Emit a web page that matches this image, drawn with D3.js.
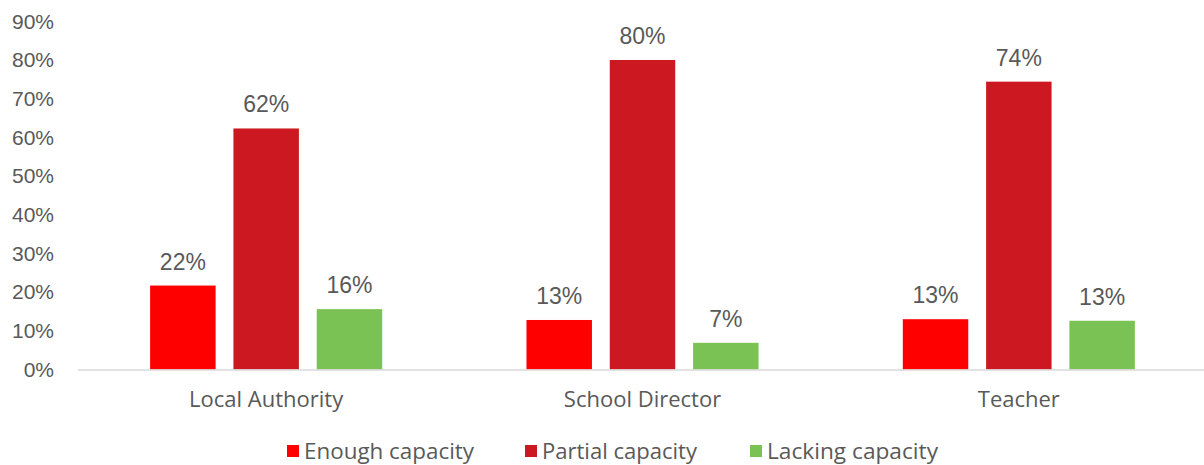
<!DOCTYPE html>
<html>
<head>
<meta charset="utf-8">
<script src="https://cdn.jsdelivr.net/npm/d3@7"></script>
<style>
  body { margin: 0; background: #fff; }
  svg text { fill: #595959; }
</style>
</head>
<body>
<div id="chart"></div>
<script>
// capacity by respondent type
var groups = ["Local Authority", "School Director", "Teacher"];
var keys = ["Enough capacity", "Partial capacity", "Lacking capacity"];
var enough = [21.7, 12.8, 13.0];
var partial = [62.3, 80.0, 74.4];
var lacking = [15.6, 6.9, 12.6];
var ticks = [0, 10, 20, 30, 40, 50, 60, 70, 80, 90];

var colors = {"Enough capacity": "#ff0000", "Partial capacity": "#cc1820", "Lacking capacity": "#7bc254"};

var rows = groups.map(function(g, i) {
  return {group: g, "Enough capacity": enough[i], "Partial capacity": partial[i], "Lacking capacity": lacking[i]};
});

var width = 1204, height = 465;

var svg = d3.select("#chart").append("svg")
    .attr("width", width)
    .attr("height", height);

var x0 = d3.scaleBand()
    .domain(groups)
    .range([78, 1207]);

var x1 = d3.scaleBand()
    .domain(keys)
    .range([0, x0.bandwidth()])
    .paddingInner(0.214)
    .paddingOuter(0.866);

var y = d3.scaleLinear()
    .domain([0, 90])
    .range([369.5, 21.3]);

// y tick labels
svg.append("g")
  .selectAll("text")
  .data(ticks)
  .enter().append("text")
    .attr("x", 54)
    .attr("y", function(d) { return y(d); })
    .attr("dy", "0.35em")
    .attr("text-anchor", "end")
    .attr("font-family", "Liberation Sans, Arial, sans-serif")
    .attr("font-size", 21)
    .text(function(d) { return d + "%"; });

// bars
var g = svg.append("g")
  .selectAll("g")
  .data(rows)
  .enter().append("g")
    .attr("transform", function(d) { return "translate(" + x0(d.group) + ",0)"; });

g.selectAll("rect")
  .data(function(d) { return keys.map(function(k) { return {key: k, value: d[k]}; }); })
  .enter().append("rect")
    .attr("x", function(d) { return x1(d.key); })
    .attr("y", function(d) { return y(d.value); })
    .attr("width", x1.bandwidth())
    .attr("height", function(d) { return y(0) - y(d.value); })
    .attr("fill", function(d) { return colors[d.key]; });

g.selectAll("text.val")
  .data(function(d) { return keys.map(function(k) { return {key: k, value: d[k]}; }); })
  .enter().append("text")
    .attr("class", "val")
    .attr("x", function(d) { return x1(d.key) + x1.bandwidth() / 2; })
    .attr("y", function(d) { return y(d.value) - 16; })
    .attr("text-anchor", "middle")
    .attr("font-family", "Liberation Sans, Arial, sans-serif")
    .attr("font-size", 23)
    .text(function(d) { return Math.round(d.value) + "%"; });

// x axis line
svg.append("line")
    .attr("x1", 78)
    .attr("x2", width)
    .attr("y1", y(0) + 0.5)
    .attr("y2", y(0) + 0.5)
    .attr("stroke", "#d9d9d9")
    .attr("stroke-width", 1.5);

svg.append("g")
  .selectAll("text")
  .data(groups)
  .enter().append("text")
    .attr("x", function(d) { return x0(d) + x0.bandwidth() / 2; })
    .attr("y", 399)
    .attr("dy", "0.35em")
    .attr("text-anchor", "middle")
    .attr("font-family", "Open Sans, sans-serif")
    .attr("font-size", 22)
    .text(function(d) { return d; });

// legend
var legX = [287, 525, 750];
var leg = svg.append("g")
  .selectAll("g")
  .data(keys)
  .enter().append("g")
    .attr("transform", function(d, i) { return "translate(" + legX[i] + ",451)"; });

leg.append("rect")
    .attr("x", 0)
    .attr("y", -6)
    .attr("width", 12)
    .attr("height", 12)
    .attr("fill", function(d) { return colors[d]; });

leg.append("text")
    .attr("x", 17)
    .attr("y", 0)
    .attr("dy", "0.35em")
    .attr("font-family", "Open Sans, sans-serif")
    .attr("font-size", 22)
    .attr("textLength", function(d, i) { return [170, 155, 171][i]; })
    .attr("lengthAdjust", "spacingAndGlyphs")
    .text(function(d) { return d; });
</script>
</body>
</html>
